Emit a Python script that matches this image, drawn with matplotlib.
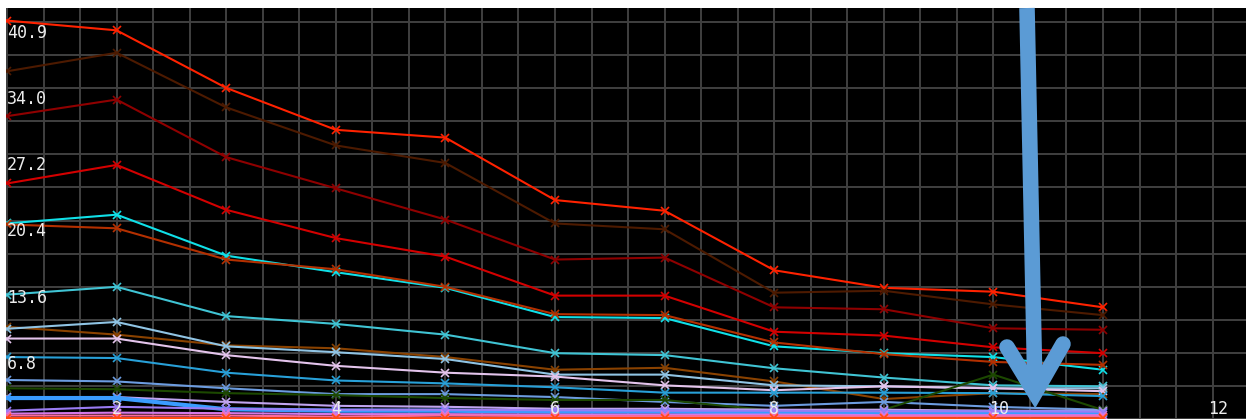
import numpy as np
import matplotlib
matplotlib.use("Agg")
import matplotlib.pyplot as plt
from matplotlib.lines import Line2D
import matplotlib.transforms as mtransforms

# ---------------- data ----------------
x_vals = [1, 2, 3, 4, 5, 6, 7, 8, 9, 10, 11]

s_red_top     = [40.9, 39.9, 34.0, 29.7, 28.9, 22.5, 21.4, 15.3, 13.5, 13.1, 11.5]
s_dark_brown  = [35.7, 37.6, 32.0, 28.1, 26.3, 20.1, 19.5, 13.0, 13.2, 11.8, 10.7]
s_dark_red    = [31.1, 32.8, 26.9, 23.7, 20.5, 16.4, 16.6, 11.5, 11.3, 9.35, 9.2]
s_red         = [24.2, 26.1, 21.5, 18.6, 16.7, 12.7, 12.7, 9.0, 8.6, 7.4, 6.8]
s_cyan        = [20.1, 21.0, 16.8, 15.1, 13.5, 10.5, 10.4, 7.5, 6.8, 6.4, 5.1]
s_rust        = [20.0, 19.6, 16.4, 15.4, 13.6, 10.8, 10.7, 7.9, 6.7, 5.9, 5.6]
s_cyan2       = [12.8, 13.6, 10.6, 9.8, 8.7, 6.8, 6.6, 5.25, 4.3, 3.5, 3.4]
s_brown       = [9.5, 8.7, 7.6, 7.3, 6.4, 5.1, 5.3, 3.9, 2.1, 2.7, 2.6]
s_lightblue   = [9.3, 10.0, 7.5, 6.9, 6.2, 4.6, 4.6, 3.5, 3.4, 3.2, 3.2]
s_thistle     = [8.3, 8.3, 6.6, 5.5, 4.8, 4.4, 3.5, 3.0, 3.4, 3.2, 2.9]
s_midblue     = [6.4, 6.3, 4.8, 4.0, 3.7, 3.3, 2.75, 2.75, 2.75, 2.7, 2.4]
s_cornflower  = [4.05, 3.9, 3.2, 2.6, 2.6, 2.3, 1.8, 1.4, 1.8, 1.3, 1.0]
s_darkgreen   = [3.2, 3.1, 2.7, 2.5, 2.2, 2.0, 2.0, 0.9, 1.0, 4.6, 0.97]
s_lavender    = [2.3, 2.3, 1.8, 1.4, 1.3, 1.1, 1.1, 1.0, 1.0, 0.9, 0.9]
s_dodger      = [2.2, 2.2, 1.05, 0.9, 0.9, 0.8, 0.8, 0.75, 0.75, 0.7, 0.7]
s_violet      = [0.9, 1.3, 1.1, 1.0, 1.0, 0.95, 0.9, 0.9, 0.85, 0.85, 0.8]
s_magenta     = [0.6, 0.7, 0.65, 0.55, 0.55, 0.5, 0.5, 0.5, 0.45, 0.45, 0.45]
s_pink        = [0.4, 0.4, 0.4, 0.3, 0.4, 0.35, 0.35, 0.35, 0.3, 0.3, 0.3]
s_orange      = [0.15, 0.15, 0.15, 0.12, 0.15, 0.15, 0.15, 0.15, 0.15, 0.12, 0.12]

y_tick_values = [6.8, 13.6, 20.4, 27.2, 34.0, 40.8]
y_tick_labels = ["6.8", "13.6", "20.4", "27.2", "34.0", "40.9"]
x_tick_values = [2, 4, 6, 8, 10, 12]
x_tick_labels = ["2", "4", "6", "8", "10", "12"]

series = [
    (s_red_top, "#ff2200", 1.5),
    (s_dark_brown, "#4d1a00", 1.5),
    (s_dark_red, "#8f0000", 1.5),
    (s_red, "#d40000", 1.5),
    (s_cyan, "#10e0e8", 1.5),
    (s_rust, "#b43000", 1.5),
    (s_cyan2, "#40c4d4", 1.5),
    (s_brown, "#8a4200", 1.5),
    (s_lightblue, "#90c4e4", 1.5),
    (s_thistle, "#e4c4ec", 1.5),
    (s_midblue, "#28a0d8", 1.5),
    (s_cornflower, "#6c9ce0", 1.5),
    (s_darkgreen, "#1c4800", 1.5),
    (s_lavender, "#c0a4f0", 1.5),
    (s_dodger, "#3a9cff", 3.0),
    (s_violet, "#9a7cf4", 1.5),
    (s_magenta, "#d478e8", 1.5),
    (s_pink, "#ff6a9a", 1.5),
    (s_orange, "#ff4a10", 1.5),
]

# ---------------- figure ----------------
W, H = 1246, 419
fig = plt.figure(figsize=(W / 100, H / 100), dpi=100, facecolor="white")
ax = fig.add_axes([6 / W, 0, (W - 6) / W, (H - 8) / H])
ax.set_facecolor("black")
for sp in ax.spines.values():
    sp.set_visible(False)

ax.set_xlim(0.991, 12.305)
ax.set_ylim(0.05, 42.19)

# grid
for gx in np.arange(1, 12.5, 1 / 3):
    ax.axvline(gx, color="#404040", lw=1.4, zorder=0)
for gy in np.arange(0, 43, 3.4):
    ax.axhline(gy, color="#404040", lw=1.4, zorder=0)

ax.set_xticks([])
ax.set_yticks([])

for vals, col, lw in series:
    ax.plot(x_vals, vals, color=col, lw=lw, marker="x", markersize=6,
            markeredgewidth=1.2, zorder=3)

# tick labels inside
tr_y = mtransforms.blended_transform_factory(ax.transAxes, ax.transData)
for v, lab in zip(y_tick_values, y_tick_labels):
    ax.annotate(lab, xy=(0, v), xycoords=tr_y, xytext=(0.8, -1.4),
                textcoords="offset points", ha="left", va="top",
                color="#ececec", fontsize=12, family="DejaVu Sans Mono", zorder=5)
tr_x = mtransforms.blended_transform_factory(ax.transData, ax.transAxes)
for v, lab in zip(x_tick_values, x_tick_labels):
    ax.annotate(lab, xy=(v, 0), xycoords=tr_x, xytext=(-3.4, 3.6),
                textcoords="offset points", ha="left", va="baseline",
                color="#ececec", fontsize=12, family="DejaVu Sans Mono", zorder=5)

# big blue annotation arrow (figure pixel coords)
def fp(px, py):
    return px / W, 1 - py / H

arrow_col = "#5b9bd5"
awid = 11.2
sx0, sy0 = fp(1027, 8)
sx1, sy1 = fp(1035, 392)
fig.add_artist(Line2D([sx0, sx1], [sy0, sy1], color=arrow_col, lw=awid,
                      solid_capstyle="butt", zorder=10))
hx = [fp(1007, 347)[0], fp(1035, 393)[0], fp(1063, 344)[0]]
hy = [fp(1007, 347)[1], fp(1035, 393)[1], fp(1063, 344)[1]]
fig.add_artist(Line2D(hx, hy, color=arrow_col, lw=awid,
                      solid_capstyle="round", solid_joinstyle="miter", zorder=10))

fig.savefig("out.png", dpi=100, facecolor="white")
